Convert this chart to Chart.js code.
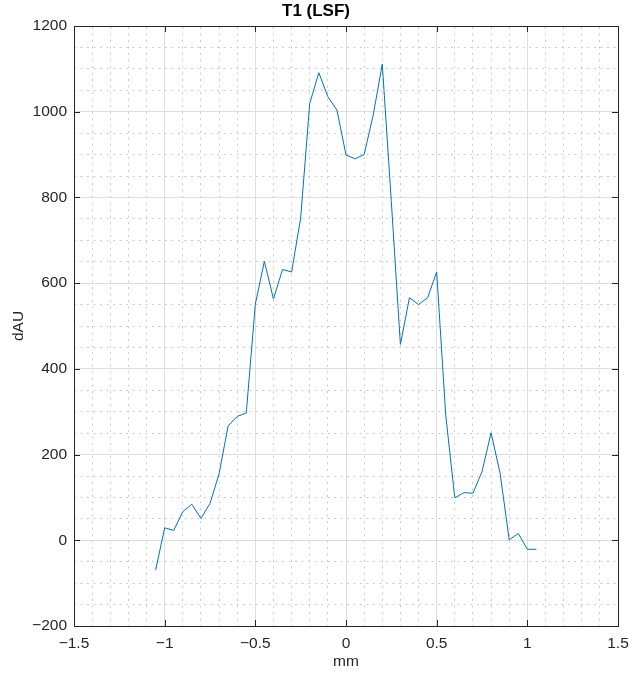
<!DOCTYPE html>
<html>
<head>
<meta charset="utf-8">
<script src="https://cdn.jsdelivr.net/npm/chart.js@4/dist/chart.umd.min.js"></script>
<style>
  html, body { margin: 0; padding: 0; background: #fff; }
  #lsfChart { display: block; }
</style>
</head>
<body>
<canvas id="lsfChart" width="632" height="676"></canvas>
<script>
// positions along the profile (mm)
var posMm = [
  -1.05, -1.0, -0.95, -0.9, -0.85, -0.8, -0.75, -0.7, -0.65, -0.6, -0.55,
  -0.5, -0.45, -0.4, -0.35, -0.3, -0.25, -0.2, -0.15, -0.1, -0.05,
  0.0, 0.05, 0.1, 0.15, 0.2, 0.25, 0.3, 0.35, 0.4, 0.45,
  0.5, 0.55, 0.6, 0.65, 0.7, 0.75, 0.8, 0.85, 0.9, 0.95, 1.0, 1.05
];
// line spread function values (dAU)
var lsfValues = [
  -70, 29, 23, 67, 84, 51, 86, 155, 267, 289, 297,
  551, 651, 563, 632, 626, 752, 1019, 1091, 1035, 1004,
  899, 890, 900, 992, 1111, 790, 457, 566, 550, 566,
  626, 292, 99, 111, 110, 160, 251, 156, 1, 16, -21, -21
];
var xTicks = [-1.5, -1, -0.5, 0, 0.5, 1, 1.5];
var yTicks = [-200, 0, 200, 400, 600, 800, 1000, 1200];

var axisColor = "#262626";
var fontFam = "'Liberation Sans', Arial, sans-serif";

function isMajor(v, step) {
  return Math.abs(v / step - Math.round(v / step)) < 1e-6;
}
function fmt(v) {
  return String(v).replace("-", "\u2212");
}

// small inward tick marks on all four sides (MATLAB style)
var tickMarks = {
  id: "tickMarks",
  afterDraw: function (chart) {
    var ctx = chart.ctx;
    var a = chart.chartArea;
    var x = chart.scales.x;
    var y = chart.scales.y;
    var len = 6;
    ctx.save();
    ctx.strokeStyle = axisColor;
    ctx.lineWidth = 1;
    ctx.beginPath();
    x.ticks.forEach(function (t) {
      var px = Math.round(x.getPixelForValue(t.value)) + 0.5;
      ctx.moveTo(px, a.top);
      ctx.lineTo(px, a.top + len);
      ctx.moveTo(px, a.bottom);
      ctx.lineTo(px, a.bottom - len);
    });
    y.ticks.forEach(function (t) {
      var py = Math.round(y.getPixelForValue(t.value)) + 0.5;
      ctx.moveTo(a.left, py);
      ctx.lineTo(a.left + len, py);
      ctx.moveTo(a.right, py);
      ctx.lineTo(a.right - len, py);
    });
    ctx.stroke();
    ctx.restore();
  }
};

var points = posMm.map(function (p, i) {
  return { x: p, y: lsfValues[i] };
});

var minorGrid = function (step) {
  return function (c) {
    return isMajor(c.tick.value, step) ? "rgba(0,0,0,0)" : "#cccccc";
  };
};

new Chart(document.getElementById("lsfChart"), {
  type: "line",
  data: {
    datasets: [
      {
        data: points,
        borderColor: "#0072BD",
        borderWidth: 1,
        pointRadius: 0,
        tension: 0,
        fill: false,
        xAxisID: "x",
        yAxisID: "y"
      }
    ]
  },
  options: {
    responsive: false,
    animation: false,
    devicePixelRatio: 1,
    layout: { padding: 0 },
    plugins: {
      legend: { display: false },
      tooltip: { enabled: false },
      title: {
        display: true,
        text: "T1 (LSF)",
        color: "#000",
        font: { family: fontFam, size: 17, weight: "bold" },
        padding: { top: 1.5, bottom: 4.1 }
      }
    },
    scales: {
      x: {
        type: "linear",
        position: "bottom",
        min: xTicks[0],
        max: xTicks[xTicks.length - 1],
        afterBuildTicks: function (s) {
          s.ticks = xTicks.map(function (v) { return { value: v }; });
        },
        afterFit: function (s) {
          s.height = 50;
          s.paddingLeft = 0;
          s.paddingRight = 0;
        },
        ticks: {
          autoSkip: false,
          maxRotation: 0,
          padding: 8,
          color: axisColor,
          font: { family: fontFam, size: 15.5 },
          callback: function (v) { return fmt(v); }
        },
        grid: { color: "#dedede", drawTicks: false },
        border: { display: true, color: axisColor, width: 1 },
        title: {
          display: true,
          text: "mm",
          color: axisColor,
          font: { family: fontFam, size: 15.5 },
          padding: { top: 0, bottom: 5 }
        }
      },
      y: {
        type: "linear",
        position: "left",
        min: yTicks[0],
        max: yTicks[yTicks.length - 1],
        afterBuildTicks: function (s) {
          s.ticks = yTicks.map(function (v) { return { value: v }; });
        },
        afterFit: function (s) {
          s.width = 74;
          s.paddingTop = 0;
          s.paddingBottom = 0;
        },
        ticks: {
          autoSkip: false,
          padding: 7,
          color: axisColor,
          font: { family: fontFam, size: 15.5 },
          callback: function (v) { return fmt(v); }
        },
        grid: { color: "#dedede", drawTicks: false },
        border: { display: true, color: axisColor, width: 1 },
        title: {
          display: true,
          text: "dAU",
          color: axisColor,
          font: { family: fontFam, size: 15.5 },
          padding: { top: 9, bottom: 0 }
        }
      },
      xMinor: {
        type: "linear",
        position: "top",
        min: -1.5,
        max: 1.5,
        afterFit: function (s) {
          s.height = 0;
          s.paddingLeft = 0;
          s.paddingRight = 0;
        },
        ticks: { display: false, stepSize: 0.1, maxTicksLimit: 100 },
        grid: { color: minorGrid(0.5), drawTicks: false },
        border: { display: true, color: axisColor, width: 1, dash: [2, 4.5] }
      },
      yMinor: {
        type: "linear",
        position: "right",
        min: -200,
        max: 1200,
        afterFit: function (s) {
          s.width = 14;
          s.paddingTop = 0;
          s.paddingBottom = 0;
        },
        ticks: { display: false, stepSize: 50, maxTicksLimit: 100 },
        grid: { color: minorGrid(200), drawTicks: false },
        border: { display: true, color: axisColor, width: 1, dash: [2, 4.5] }
      }
    }
  },
  plugins: [tickMarks]
});
</script>
</body>
</html>
